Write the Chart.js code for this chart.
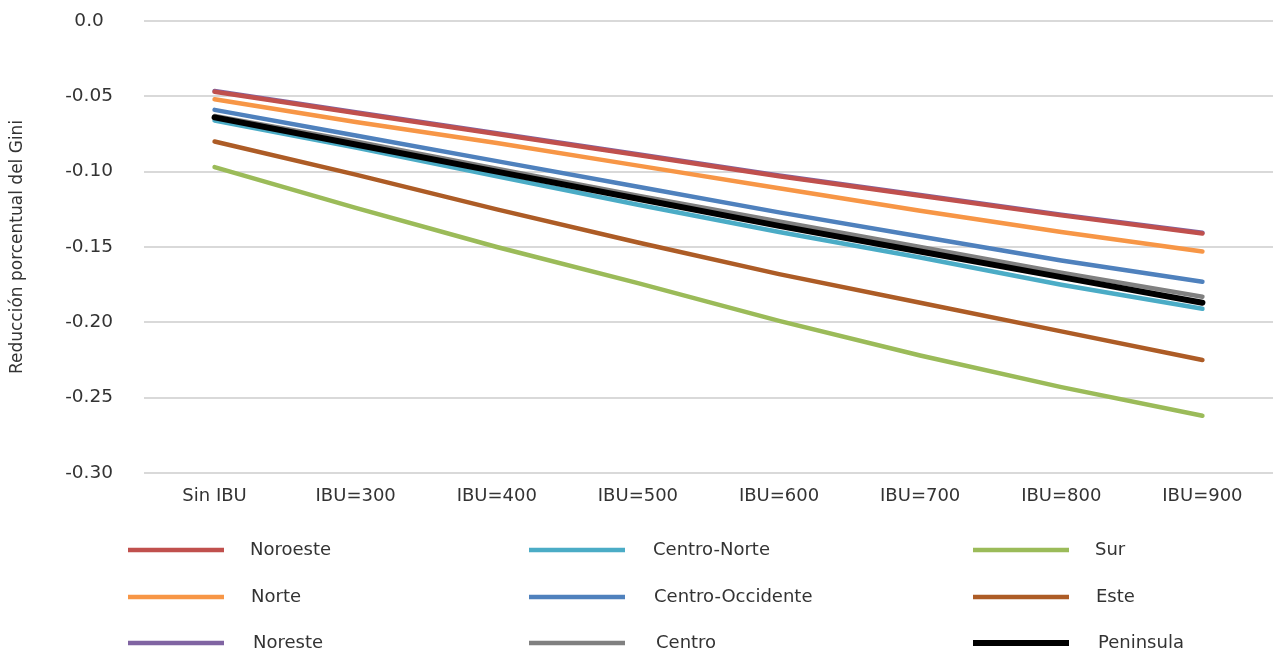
<!DOCTYPE html>
<html lang="es">
<head>
<meta charset="utf-8">
<title>Reducción porcentual del Gini</title>
<script src="https://cdn.jsdelivr.net/npm/chart.js@4/dist/chart.umd.min.js"></script>
<style>
  html, body { margin: 0; padding: 0; background: #ffffff; }
  #wrap { width: 1273px; height: 653px; }
</style>
</head>
<body>
<div id="wrap"><canvas id="c" width="1273" height="653"></canvas></div>
<script>
// Escenarios del ingreso básico universal
const categories = ['Sin IBU', 'IBU=300', 'IBU=400', 'IBU=500', 'IBU=600', 'IBU=700', 'IBU=800', 'IBU=900'];

// Reducción porcentual del Gini por región
const noroeste        = [-0.047, -0.061, -0.075, -0.089, -0.103, -0.116, -0.129, -0.141];
const norte           = [-0.052, -0.067, -0.081, -0.096, -0.111, -0.126, -0.140, -0.153];
const noreste         = [-0.0465, -0.0605, -0.0745, -0.0885, -0.1025, -0.1155, -0.1285, -0.1405];
const centroNorte     = [-0.066, -0.084, -0.103, -0.122, -0.140, -0.157, -0.175, -0.191];
const centroOccidente = [-0.059, -0.076, -0.093, -0.110, -0.127, -0.143, -0.159, -0.173];
const centro          = [-0.063, -0.080, -0.098, -0.116, -0.133, -0.150, -0.167, -0.183];
const sur             = [-0.097, -0.124, -0.150, -0.174, -0.199, -0.222, -0.243, -0.262];
const este            = [-0.080, -0.102, -0.125, -0.147, -0.168, -0.187, -0.206, -0.225];
const peninsula       = [-0.064, -0.082, -0.100, -0.118, -0.136, -0.153, -0.170, -0.187];

// Marcas del eje vertical
const yTicks = [0, -0.05, -0.10, -0.15, -0.20, -0.25, -0.30];

const FONT = "'DejaVu Sans', Verdana, sans-serif";
const TEXT = '#333333';

function series(label, data, color, width, order) {
  return {
    label, data,
    borderColor: color,
    backgroundColor: color,
    borderWidth: width,
    borderCapStyle: 'round',
    borderJoinStyle: 'round',
    pointRadius: 0,
    pointHoverRadius: 0,
    tension: 0,
    fill: false,
    order
  };
}

// Leyenda en tres columnas dibujada bajo el gráfico
const gridLegend = {
  id: 'gridLegend',
  afterDraw(chart) {
    const ctx = chart.ctx;
    const colX = [128, 529, 973];
    const textX = [250, 653, 1095];
    const rowY = [550, 597, 643];
    const rowShift = [0, 1, 3];
    const lineLen = 96;
    ctx.save();
    ctx.font = '18px ' + FONT;
    ctx.textBaseline = 'middle';
    ctx.textAlign = 'left';
    chart.data.datasets.forEach((ds, i) => {
      const col = Math.floor(i / 3), row = i % 3;
      const y = rowY[row];
      ctx.beginPath();
      ctx.strokeStyle = ds.borderColor;
      ctx.lineWidth = ds.borderWidth;
      ctx.lineCap = 'butt';
      ctx.moveTo(colX[col], y);
      ctx.lineTo(colX[col] + lineLen, y);
      ctx.stroke();
      ctx.fillStyle = TEXT;
      ctx.fillText(ds.label, textX[col] + rowShift[row], y);
    });
    ctx.restore();
  }
};

new Chart(document.getElementById('c'), {
  type: 'line',
  data: {
    labels: categories,
    datasets: [
      series('Noroeste', noroeste, '#C0504D', 4.5, 1),
      series('Norte', norte, '#F79646', 4.5, 2),
      series('Noreste', noreste, '#8064A2', 4.5, 3),
      series('Centro-Norte', centroNorte, '#4BACC6', 4.5, 2),
      series('Centro-Occidente', centroOccidente, '#4F81BD', 4.5, 2),
      series('Centro', centro, '#808080', 4.5, 3),
      series('Sur', sur, '#9BBB59', 4.5, 2),
      series('Este', este, '#AD5C26', 4.5, 2),
      series('Peninsula', peninsula, '#000000', 6, 0)
    ]
  },
  options: {
    responsive: false,
    animation: false,
    events: [],
    layout: { padding: { top: 21, left: 0, right: 0, bottom: 135 } },
    plugins: {
      legend: { display: false },
      tooltip: { enabled: false },
      title: { display: false }
    },
    scales: {
      x: {
        offset: true,
        grid: { display: false, drawTicks: false },
        border: { display: false },
        ticks: {
          color: TEXT,
          font: { family: FONT, size: 18 },
          padding: 13,
          maxRotation: 0,
          autoSkip: false
        },
        afterFit(s) { s.height = 45; }
      },
      y: {
        min: -0.30,
        max: 0,
        afterBuildTicks(s) { s.ticks = yTicks.map(v => ({ value: v })); },
        grid: { color: '#d9d9d9', lineWidth: 2, drawTicks: false },
        border: { display: false },
        ticks: {
          color: TEXT,
          font: { family: FONT, size: 18.5 },
          crossAlign: 'center',
          padding: 31,
          callback: v => (Math.abs(v) < 1e-9 ? '0.0' : v.toFixed(2))
        },
        title: {
          display: true,
          text: 'Reducción porcentual del Gini',
          color: TEXT,
          font: { family: FONT, size: 17 },
          padding: { top: 7, bottom: 0 }
        },
        afterFit(s) {
          s.width = 144;
          s.paddingTop = 0;
          s.paddingBottom = 0;
        }
      }
    }
  },
  plugins: [gridLegend]
});
</script>
</body>
</html>
